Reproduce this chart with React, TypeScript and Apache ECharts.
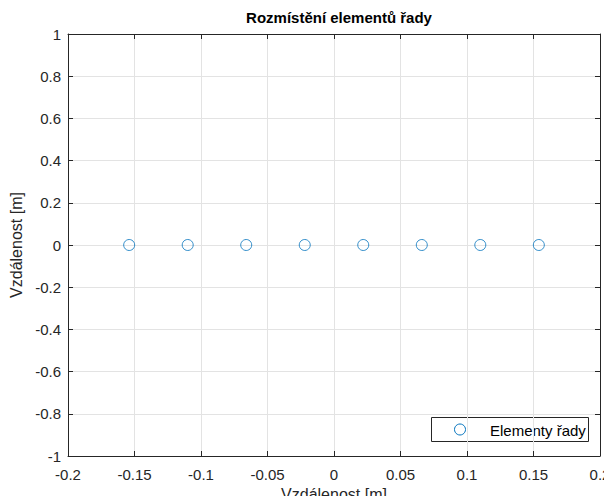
import React, { useEffect, useRef } from "react";
import * as echarts from "echarts";

const titleText = "Rozmístění elementů řady";
const xAxisName = "Vzdálenost [m]";
const yAxisName = "Vzdálenost [m]";
const seriesName = "Elementy řady";
const elementX = [-0.154, -0.11, -0.066, -0.022, 0.022, 0.066, 0.11, 0.154];
const elementY = [0, 0, 0, 0, 0, 0, 0, 0];

const FONT = "'Liberation Sans', Arial, Helvetica, sans-serif";
const AXIS = "#262626";
const GRID = "#e3e3e3";
const BLUE = "#0072BD";

const fmt = (v: number) => {
  const r = Math.round(v * 1000) / 1000;
  return String(r === 0 ? 0 : r);
};

export default function App() {
  const ref = useRef<HTMLDivElement>(null);
  useEffect(() => {
    if (!ref.current) return;
    const chart = echarts.init(ref.current, undefined, { renderer: "svg" });
    const tickBase = {
      show: true,
      inside: true,
      length: 5,
      lineStyle: { color: AXIS, width: 1 },
    };
    chart.setOption({
      animation: false,
      backgroundColor: "#ffffff",
      textStyle: { fontFamily: FONT },
      title: {
        text: titleText,
        left: 334,
        top: 5,
        textAlign: "center",
        textStyle: { fontFamily: FONT, fontSize: 15, fontWeight: "bold", color: "#000" },
      },
      grid: {
        left: 68,
        right: 12,
        top: 34,
        bottom: 48,
        containLabel: false,
        outerBoundsMode: "none",
      },
      graphic: [
        {
          type: "group",
          z: 100,
          children: [
            {
              type: "rect",
              shape: { x: 431.5, y: 417.5, width: 157, height: 24 },
              style: { fill: "#ffffff", stroke: AXIS, lineWidth: 1 },
            },
            {
              type: "circle",
              shape: { cx: 460, cy: 429.5, r: 5.5 },
              style: { fill: "none", stroke: BLUE, lineWidth: 1 },
            },
            {
              type: "text",
              x: 490,
              y: 430,
              style: {
                text: seriesName,
                fontFamily: FONT,
                fontSize: 15,
                fill: "#000",
                textAlign: "left",
                textVerticalAlign: "middle",
                verticalAlign: "middle",
              },
            },
          ],
        },
      ],
      xAxis: [
        {
          type: "value",
          position: "bottom",
          min: -0.2,
          max: 0.2,
          interval: 0.05,
          name: xAxisName,
          nameLocation: "middle",
          nameGap: 30,
          nameTextStyle: { fontFamily: FONT, fontSize: 16, color: AXIS },
          axisLine: { show: true, onZero: false, lineStyle: { color: AXIS, width: 1 } },
          axisTick: tickBase,
          axisLabel: { formatter: fmt, fontFamily: FONT, fontSize: 15, color: AXIS, margin: 11 },
          splitLine: { show: true, lineStyle: { color: GRID, width: 1 } },
        },
        {
          type: "value",
          position: "top",
          min: -0.2,
          max: 0.2,
          interval: 0.05,
          axisLine: { show: true, onZero: false, lineStyle: { color: AXIS, width: 1 } },
          axisTick: tickBase,
          axisLabel: { show: false },
          splitLine: { show: false },
        },
      ],
      yAxis: [
        {
          type: "value",
          position: "left",
          min: -1,
          max: 1,
          interval: 0.2,
          name: yAxisName,
          nameLocation: "middle",
          nameGap: 41,
          nameTextStyle: { fontFamily: FONT, fontSize: 16, color: AXIS },
          axisLine: { show: true, onZero: false, lineStyle: { color: AXIS, width: 1 } },
          axisTick: tickBase,
          axisLabel: { formatter: fmt, fontFamily: FONT, fontSize: 15, color: AXIS, margin: 7 },
          splitLine: { show: true, lineStyle: { color: GRID, width: 1 } },
        },
        {
          type: "value",
          position: "right",
          min: -1,
          max: 1,
          interval: 0.2,
          axisLine: { show: true, onZero: false, lineStyle: { color: AXIS, width: 1 } },
          axisTick: tickBase,
          axisLabel: { show: false },
          splitLine: { show: false },
        },
      ],
      series: [
        {
          name: seriesName,
          type: "scatter",
          xAxisIndex: 0,
          yAxisIndex: 0,
          symbol: "circle",
          symbolSize: 11,
          itemStyle: { color: "rgba(255,255,255,0)", borderColor: BLUE, borderWidth: 1 },
          data: elementX.map((x, i) => [x, elementY[i]]),
          z: 5,
        },
      ],
    });
    return () => chart.dispose();
  }, []);
  return <div ref={ref} style={{ width: 612, height: 504, margin: -8 }} />;
}
